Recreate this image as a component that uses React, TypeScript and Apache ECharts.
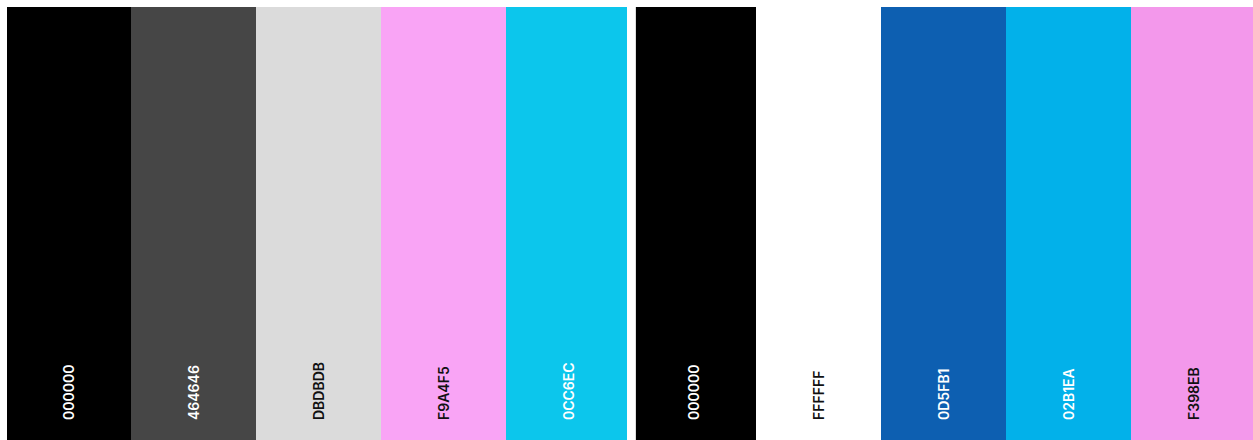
import React, { useEffect, useRef } from "react";
import * as echarts from "echarts";

const paletteA = ["000000", "464646", "DBDBDB", "F9A4F5", "0CC6EC"];
const paletteB = ["000000", "FFFFFF", "0D5FB1", "02B1EA", "F398EB"];
const lightA = [false, false, true, true, false];
const lightB = [false, true, false, false, true];
const stripeValue = [1, 1, 1, 1, 1];

function makeSeries(colors: string[], light: boolean[], idx: number) {
  return {
    type: "bar",
    xAxisIndex: idx,
    yAxisIndex: idx,
    barWidth: "100%",
    barCategoryGap: "0%",
    silent: true,
    data: colors.map((c, i) => ({
      value: stripeValue[i],
      itemStyle: { color: "#" + c },
      label: {
        show: true,
        position: "insideBottom",
        rotate: 90,
        align: "left",
        verticalAlign: "middle",
        distance: 20,
        formatter: c,
        fontFamily: "Inter, Roboto, sans-serif",
        fontWeight: 600,
        fontSize: 14,
        color: light[i] ? "#111111" : "#ffffff",
      },
    })),
  };
}

export default function App() {
  const ref = useRef<HTMLDivElement>(null);
  useEffect(() => {
    document.body.style.margin = "0";
    document.body.style.overflow = "hidden";
    document.documentElement.style.overflow = "hidden";
    const chart = echarts.init(ref.current!, null, { renderer: "svg" });
    chart.setOption({
      animation: false,
      backgroundColor: "#ffffff",
      grid: [
        { left: 6, top: 7, width: 625, bottom: 0 },
        { left: 631, top: 7, width: 625, bottom: 0 },
      ],
      xAxis: [0, 1].map((i) => ({
        type: "category",
        gridIndex: i,
        data: i === 0 ? paletteA : paletteB,
        show: false,
      })),
      yAxis: [0, 1].map((i) => ({
        type: "value",
        gridIndex: i,
        min: 0,
        max: 1,
        show: false,
      })),
      series: [makeSeries(paletteA, lightA, 0), makeSeries(paletteB, lightB, 1)],
      graphic: [
        {
          type: "rect",
          shape: { x: 0, y: 0, width: 7, height: 440 },
          style: { fill: "#ffffff" },
          z: 100,
        },
        {
          type: "rect",
          shape: { x: 627, y: 0, width: 8, height: 440 },
          style: { fill: "#ffffff" },
          z: 100,
        },
        {
          type: "rect",
          shape: { x: 635, y: 7, width: 1, height: 433 },
          style: { fill: "#dddddd" },
          z: 100,
        },
      ],
    });
    return () => chart.dispose();
  }, []);
  return (
    <div style={{ width: 1253, height: 440, overflow: "hidden" }}>
      <div ref={ref} style={{ width: 1256, height: 440 }} />
    </div>
  );
}
